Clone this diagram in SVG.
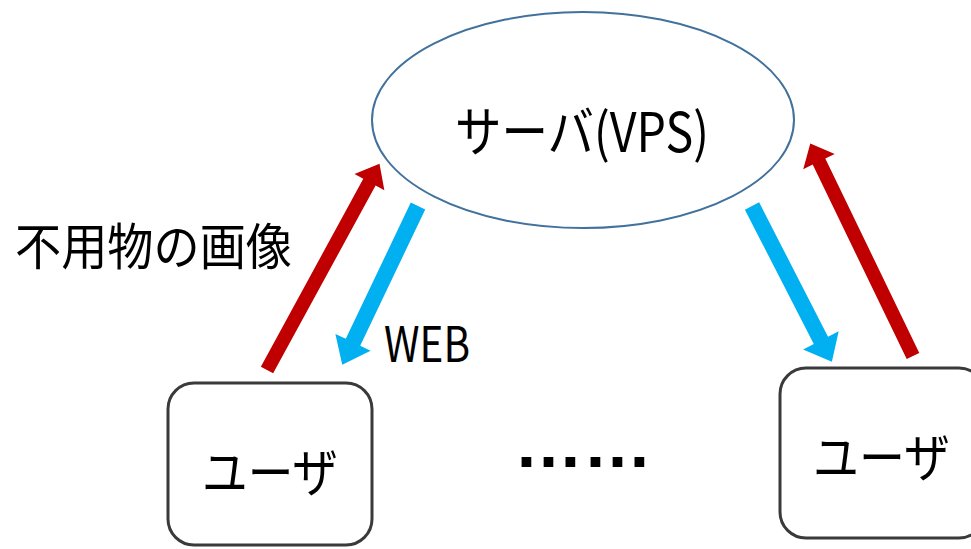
<svg xmlns="http://www.w3.org/2000/svg" width="971" height="549" viewBox="0 0 971 549">
<style>
.t{font-family:"Noto Sans CJK JP","Liberation Sans",sans-serif;fill:#000;}
.red{fill:#C00000;}
.blue{fill:#00B0F0;}
.box{fill:#fff;stroke:#3a3a3a;stroke-width:3;}
</style>
<rect width="971" height="549" fill="#fff"/>
<g id="connectors">
<polygon class="red" points="0,-7 214,-7 214,-17 235,0 214,17 214,7 0,7" transform="translate(267,370) rotate(-61.4)"/>
<polygon class="blue" points="0,-8 151,-8 151,-19.5 176,0 151,19.5 151,8 0,8" transform="translate(418,206) rotate(115.5)"/>
<polygon class="blue" points="0,-8 151,-8 151,-20 175,0 151,20 151,8 0,8" transform="translate(752,206) rotate(62.85)"/>
<polygon class="red" points="0,-7 216,-7 216,-17.5 236,0 216,17.5 216,7 0,7" transform="translate(913,356) rotate(-115.8)"/>
</g>
<g id="server">
<ellipse cx="583" cy="120" rx="211" ry="108" fill="#fff" stroke="#41719C" stroke-width="2"/>
<text class="t" x="455" y="152" font-size="54" textLength="254" lengthAdjust="spacingAndGlyphs">サーバ(VPS)</text>
</g>
<g id="user1">
<rect class="box" x="168" y="383" width="204" height="162" rx="26"/>
<text class="t" x="202" y="492" font-size="52" textLength="136" lengthAdjust="spacingAndGlyphs">ユーザ</text>
</g>
<g id="user2">
<rect class="box" x="780" y="368" width="205" height="170" rx="26"/>
<text class="t" x="813" y="477" font-size="52" textLength="137" lengthAdjust="spacingAndGlyphs">ユーザ</text>
</g>
<text class="t" x="15" y="265" font-size="50" textLength="277" lengthAdjust="spacingAndGlyphs">不用物の画像</text>
<text class="t" x="384" y="362" font-size="49" textLength="86" lengthAdjust="spacingAndGlyphs">WEB</text>
<text x="514" y="467" font-family="Liberation Sans" font-size="66" font-weight="bold" textLength="138" lengthAdjust="spacingAndGlyphs">……</text>
</svg>
